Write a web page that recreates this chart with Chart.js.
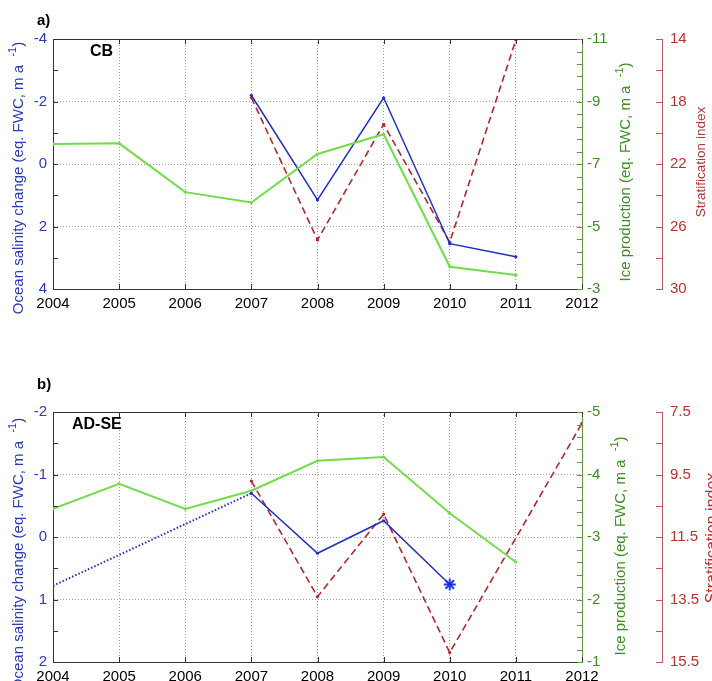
<!DOCTYPE html>
<html>
<head>
<meta charset="utf-8">
<script src="https://cdn.jsdelivr.net/npm/chart.js@4"></script>
<style>
  body { margin: 0; background: #fff; }
  #wrap { position: relative; width: 712px; height: 681px; overflow: hidden; background: #fff; }
  canvas { position: absolute; left: 0; }
</style>
</head>
<body>
<div id="wrap">
  <canvas id="chartA" width="712" height="330" style="top:0"></canvas>
  <canvas id="chartB" width="712" height="351" style="top:330px"></canvas>
</div>
<script>
// ---------------- DATA ----------------

const years = [2004, 2005, 2006, 2007, 2008, 2009, 2010, 2011, 2012];

// a) CB
const cbSalinity = [null, null, null, -2.2, 1.15, -2.12, 2.55, 2.97, null];
const cbIce      = [-7.64, -7.66, -6.1, -5.77, -7.32, -7.95, -3.71, -3.45, null];
const cbStrat    = [null, null, null, 17.75, 26.86, 19.46, 27.0, 14.06, null];

const cbSalTicks   = [-4, -2, 0, 2, 4];
const cbIceTicks   = [-11, -9, -7, -5, -3];
const cbStratTicks = [14, 18, 22, 26, 30];

// b) AD-SE
const adSalinity       = [null, null, null, -0.7, 0.26, -0.26, 0.76, null, null];
const adSalinityDotted = [0.78, null, null, -0.7, null, null, null, null, null];
const adSalinityStar   = [null, null, null, null, null, null, 0.76, null, null];
const adIce            = [-3.45, -3.85, -3.45, -3.74, -4.22, -4.28, -3.38, -2.6, null];
const adStrat          = [null, null, null, 9.71, 13.41, 10.77, 15.2, null, 7.86];

const adSalTicks   = [-2, -1, 0, 1, 2];
const adIceTicks   = [-5, -4, -3, -2, -1];
const adStratTicks = [7.5, 9.5, 11.5, 13.5, 15.5];

// ---------------- STYLE ----------------

const FONT = "'Liberation Sans', Arial, Helvetica, sans-serif";
const blueLine = "#1f2fc4", blueText = "#2b3bb3";
const greenLine = "#72dd48", greenText = "#3f8d25", greenAxis = "#5c9a3c";
const redLine = "#b3282a", redText = "#b83232", redAxis = "#c25a5a";
const gridColor = "#a0a0a0";

function pts(vals) {
    return years.map((x, i) => ({ x: x, y: vals[i] }));
}

function withMinor(majors, n) {
    const out = [];
    for (let i = 0; i < majors.length - 1; i++) {
        for (let k = 0; k < n; k++) {
            out.push(majors[i] + (majors[i + 1] - majors[i]) * k / n);
        }
    }
    out.push(majors[majors.length - 1]);
    return out;
}

function setTicks(list) {
    return scale => { scale.ticks = list.map(v => ({ value: v })); };
}

// rotated axis title with a raised "-1"
function rotTitle(ctx, cx, cy, parts, color, size) {
    ctx.save();
    ctx.translate(cx, cy);
    ctx.rotate(-Math.PI / 2);
    ctx.fillStyle = color;
    ctx.textBaseline = "middle";
    ctx.textAlign = "left";
    const big = size + "px " + FONT;
    const small = Math.round(size * 0.72) + "px " + FONT;
    ctx.font = big;
    const w0 = ctx.measureText(parts[0]).width;
    const w2 = parts[2] ? ctx.measureText(parts[2]).width : 0;
    ctx.font = small;
    const w1 = parts[1] ? ctx.measureText(parts[1]).width : 0;
    let x = -(w0 + w1 + w2) / 2;
    ctx.font = big;
    ctx.fillText(parts[0], x, 0);
    x += w0;
    if (parts[1]) {
        ctx.font = small;
        ctx.fillText(parts[1], x, -size * 0.42);
        x += w1;
    }
    if (parts[2]) {
        ctx.font = big;
        ctx.fillText(parts[2], x, 0);
    }
    ctx.restore();
}

const decor = {
    id: "decor",
    afterDraw(chart, args, o) {
        const { ctx, chartArea: a, scales } = chart;
        ctx.save();
        ctx.lineWidth = 1;

        // top frame
        ctx.strokeStyle = "#333";
        ctx.beginPath();
        ctx.moveTo(a.left, a.top + 0.5);
        ctx.lineTo(a.right, a.top + 0.5);
        ctx.stroke();

        const tl = 5;
        // year ticks, bottom and top, pointing in
        years.forEach(v => {
            const x = Math.round(scales.x.getPixelForValue(v)) + 0.5;
            ctx.beginPath();
            ctx.moveTo(x, a.bottom); ctx.lineTo(x, a.bottom - tl);
            ctx.moveTo(x, a.top); ctx.lineTo(x, a.top + tl);
            ctx.stroke();
        });

        // left axis ticks
        withMinor(o.salTicks, 2).forEach(v => {
            const y = Math.round(scales.y.getPixelForValue(v)) + 0.5;
            ctx.beginPath();
            ctx.moveTo(a.left, y); ctx.lineTo(a.left + tl, y);
            ctx.stroke();
        });

        // green axis ticks
        ctx.strokeStyle = greenAxis;
        withMinor(o.iceTicks, 5).forEach(v => {
            const y = Math.round(scales.y2.getPixelForValue(v)) + 0.5;
            ctx.beginPath();
            ctx.moveTo(a.right, y); ctx.lineTo(a.right - tl, y);
            ctx.stroke();
        });

        // red axis ticks, pointing left of its line
        ctx.strokeStyle = redAxis;
        const rx = scales.y3.left;
        withMinor(o.stratTicks, 2).forEach(v => {
            const y = Math.round(scales.y3.getPixelForValue(v)) + 0.5;
            ctx.beginPath();
            ctx.moveTo(rx, y); ctx.lineTo(rx - 6, y);
            ctx.stroke();
        });

        // panel letter and region name
        ctx.fillStyle = "#000";
        ctx.textBaseline = "alphabetic";
        ctx.textAlign = "left";
        ctx.font = "bold 15px " + FONT;
        ctx.fillText(o.tag, 37, o.tagY);
        ctx.font = "bold 16px " + FONT;
        ctx.fillText(o.name, o.nameX, a.top + 17);

        // axis titles
        rotTitle(ctx, 19, o.salTitleY, ["Ocean salinity change (eq. FWC, m a  ", "-1", ")"], blueText, 15);
        rotTitle(ctx, o.iceTitleX, o.iceTitleY, ["Ice production (eq. FWC, m a  ", "-1", ")"], greenText, 15);
        rotTitle(ctx, o.stratTitleX, o.stratTitleY, ["Stratification index"], redText, o.stratSize);

        ctx.restore();
    }
};

function makeChart(id, p) {
    const tickFont = { family: FONT, size: 15 };

    new Chart(document.getElementById(id), {
        type: "line",
        data: { datasets: p.datasets },
        options: {
            responsive: false,
            animation: false,
            events: [],
            layout: { padding: { top: p.top, left: 0, right: 0, bottom: 0 } },
            plugins: {
                legend: { display: false },
                tooltip: { enabled: false },
                decor: p.decor
            },
            scales: {
                x: {
                    type: "linear",
                    min: 2004,
                    max: 2012,
                    afterBuildTicks: setTicks(years),
                    afterFit: s => { s.height = p.xHeight; },
                    ticks: { color: "#000", font: tickFont, padding: p.xPad, maxRotation: 0, autoSkip: false,
                        callback: v => String(v) },
                    grid: { color: gridColor, drawTicks: false },
                    border: { color: "#333", dash: [1, 2] }
                },
                y: {
                    position: "left",
                    min: p.salTicks[0],
                    max: p.salTicks[p.salTicks.length - 1],
                    reverse: true,
                    afterBuildTicks: setTicks(p.salTicks),
                    afterFit: s => { s.width = 53; },
                    ticks: { color: blueText, font: tickFont, padding: 6, callback: v => String(v) },
                    grid: { color: gridColor, drawTicks: false },
                    border: { color: "#333", dash: [1, 2] }
                },
                y2: {
                    position: "right",
                    weight: 1,
                    min: p.iceTicks[0],
                    max: p.iceTicks[p.iceTicks.length - 1],
                    reverse: true,
                    afterBuildTicks: setTicks(p.iceTicks),
                    afterFit: s => { s.width = 80; },
                    ticks: { color: greenText, font: tickFont, padding: 5, callback: v => String(v) },
                    grid: { drawOnChartArea: false, drawTicks: false },
                    border: { color: greenAxis }
                },
                y3: {
                    position: "right",
                    weight: 2,
                    min: p.stratTicks[0],
                    max: p.stratTicks[p.stratTicks.length - 1],
                    reverse: true,
                    afterBuildTicks: setTicks(p.stratTicks),
                    afterFit: s => { s.width = 50; },
                    ticks: { color: redText, font: tickFont, padding: 8, callback: v => String(v) },
                    grid: { drawOnChartArea: false, drawTicks: false },
                    border: { color: redAxis }
                }
            }
        },
        plugins: [decor]
    });
}

function line(vals, axis, color, width, dash, extra) {
    return Object.assign({
        data: pts(vals),
        yAxisID: axis,
        borderColor: color,
        borderWidth: width,
        borderDash: dash,
        pointRadius: 1.6,
        pointBackgroundColor: color,
        pointBorderWidth: 0,
        tension: 0,
        fill: false
    }, extra || {});
}

// ---------------- PANEL a ----------------

makeChart("chartA", {
    top: 39,
    xHeight: 41,
    xPad: 6,
    salTicks: cbSalTicks,
    iceTicks: cbIceTicks,
    stratTicks: cbStratTicks,
    datasets: [
        line(cbIce, "y2", greenLine, 2, []),
        line(cbSalinity, "y", blueLine, 1.5, []),
        line(cbStrat, "y3", redLine, 1.6, [7, 4])
    ],
    decor: {
        tag: "a)", tagY: 25, name: "CB", nameX: 90,
        salTicks: cbSalTicks, iceTicks: cbIceTicks, stratTicks: cbStratTicks,
        salTitleY: 178, iceTitleX: 626, iceTitleY: 172,
        stratTitleX: 701, stratTitleY: 162, stratSize: 13.5
    }
});

// ---------------- PANEL b ----------------

makeChart("chartB", {
    top: 82,
    xHeight: 19,
    xPad: 6,
    salTicks: adSalTicks,
    iceTicks: adIceTicks,
    stratTicks: adStratTicks,
    datasets: [
        line(adIce, "y2", greenLine, 2, []),
        line(adSalinityDotted, "y", blueLine, 2, [1.5, 2], { spanGaps: true, pointRadius: 0 }),
        line(adSalinity, "y", blueLine, 1.5, []),
        line(adSalinityStar, "y", "#1a3cff", 0, [], {
            showLine: false, pointStyle: "star", pointRadius: 6,
            pointBorderColor: "#1a3cff", pointBorderWidth: 2
        }),
        line(adStrat, "y3", redLine, 1.6, [7, 4], { spanGaps: true })
    ],
    decor: {
        tag: "b)", tagY: 59, name: "AD-SE", nameX: 72,
        salTicks: adSalTicks, iceTicks: adIceTicks, stratTicks: adStratTicks,
        salTitleY: 224, iceTitleX: 621, iceTitleY: 216,
        stratTitleX: 713, stratTitleY: 208, stratSize: 16
    }
});
</script>
</body>
</html>
